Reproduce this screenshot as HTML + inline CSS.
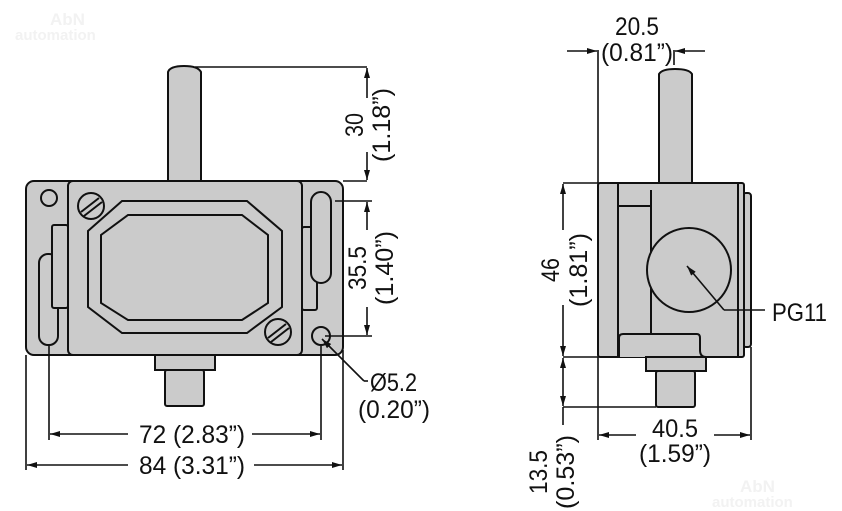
<!DOCTYPE html>
<html><head><style>
html,body{margin:0;padding:0;background:#fff;}
svg{display:block;}
text{font-family:"Liberation Sans",sans-serif;font-size:25px;fill:#111;}
</style></head><body>
<svg width="842" height="511" viewBox="0 0 842 511" xmlns="http://www.w3.org/2000/svg">
<defs>
<marker id="a" viewBox="0 0 10 6" refX="10" refY="3" markerWidth="11" markerHeight="6" orient="auto-start-reverse" markerUnits="userSpaceOnUse"><path d="M0,0 L10,3 L0,6 z" fill="#111"/></marker>
</defs>
<g>
<text x="50" y="25" style="fill:#f2f2f2;font-size:17px;font-weight:bold">AbN</text>
<text x="15" y="40" style="fill:#f2f2f2;font-size:15px;font-weight:bold">automation</text>
<text x="740" y="492" style="fill:#f2f2f2;font-size:17px;font-weight:bold">AbN</text>
<text x="712" y="507" style="fill:#f2f2f2;font-size:15px;font-weight:bold">automation</text>
</g>
<g stroke="#111" stroke-width="2" fill="#cbcbcb">
<!-- LEFT VIEW -->
<path d="M168,181 L168,72 Q170,66 184,66 Q198,66 201,72 L201,181 Z"/>
<rect x="26" y="181" width="317" height="174" rx="8"/>
<rect x="68" y="181" width="234" height="174" rx="5"/>
<rect x="39" y="254" width="19" height="91" rx="9"/>
<rect x="52" y="225" width="16" height="83" rx="2"/>
<circle cx="49" cy="198" r="8"/>
<rect x="302" y="227" width="15" height="83" rx="2"/>
<rect x="311" y="192" width="20" height="91" rx="10"/>
<circle cx="321" cy="336" r="9"/>
<path d="M122,201 L247,201 L282,231 L282,307 L247,333 L122,333 L88,307 L88,231 Z"/>
<path d="M128,215 L242,215 L268,235 L268,303 L242,320 L128,320 L101,303 L101,235 Z"/>
<circle cx="91" cy="206" r="13"/><path d="M81,212 L99,198 M84,216 L102,202" fill="none"/>
<circle cx="278" cy="332" r="13"/><path d="M268,338 L286,324 M271,342 L289,328" fill="none"/>
<rect x="155" y="355" width="60" height="15"/>
<rect x="165" y="370" width="39" height="36" rx="2"/>
<!-- RIGHT VIEW -->
<path d="M659,183 L659,74 Q662,69 675,69 Q689,69 692,74 L692,183 Z"/>
<rect x="743" y="193" width="8" height="154" rx="3"/>
<rect x="598" y="183" width="146" height="174" rx="2"/>
<path d="M618,183 L618,357 M738,183 L738,357 M651,190 L651,333 M619,206 L650,206" fill="none"/>
<path d="M619,357 L619,338 Q619,334 623,334 L697,334 Q700,334 700,338 L700,350 Q700,357 706,357" fill="#cbcbcb"/>
<circle cx="689" cy="270" r="42"/>
<rect x="646" y="357" width="60" height="14"/>
<rect x="656" y="371" width="39" height="36" rx="2"/>
</g>
<g stroke="#111" stroke-width="1.6" fill="none">
<path d="M195,67 L367,67 M343,181 L367,181"/>
<path d="M367,68 L367,98" marker-start="url(#a)"/><path d="M367,152 L367,180" marker-end="url(#a)"/>
<path d="M335,201 L372,201 M325,336 L372,336"/>
<path d="M367,202 L367,230" marker-start="url(#a)"/><path d="M367,307 L367,335" marker-end="url(#a)"/>
<path d="M364,381 L322,339" marker-end="url(#a)"/><path d="M364,381 L368,381"/>
<path d="M26,355 L26,470 M343,350 L343,470 M49,346 L49,440 M321,346 L321,440"/>
<path d="M50,434 L128,434" marker-start="url(#a)"/><path d="M252,434 L320,434" marker-end="url(#a)"/>
<path d="M27,465 L128,465" marker-start="url(#a)"/><path d="M254,465 L342,465" marker-end="url(#a)"/>
<path d="M598,50 L598,183 M674,50 L674,65"/>
<path d="M567,51 L597,51" marker-end="url(#a)"/><path d="M705,51 L675,51" marker-end="url(#a)"/>
<path d="M563,183 L598,183 M563,357 L598,357 M563,407 L656,407"/>
<path d="M563,184 L563,230" marker-start="url(#a)"/><path d="M563,305 L563,356" marker-end="url(#a)"/>
<path d="M563,358 L563,406" marker-start="url(#a)" marker-end="url(#a)"/>
<path d="M563,407 L563,425"/>
<path d="M598,357 L598,440 M751,347 L751,440"/>
<path d="M599,435 L636,435" marker-start="url(#a)"/><path d="M714,435 L750,435" marker-end="url(#a)"/>
<path d="M724,310 L687,266" marker-end="url(#a)"/><path d="M724,310 L765,310"/>
</g>
<g>
<text transform="translate(363,125) rotate(-90)" text-anchor="middle" textLength="24" lengthAdjust="spacingAndGlyphs">30</text>
<text transform="translate(390,125) rotate(-90)" text-anchor="middle" textLength="74" lengthAdjust="spacingAndGlyphs">(1.18”)</text>
<text transform="translate(366,268) rotate(-90)" text-anchor="middle" textLength="44" lengthAdjust="spacingAndGlyphs">35.5</text>
<text transform="translate(393,268) rotate(-90)" text-anchor="middle" textLength="74" lengthAdjust="spacingAndGlyphs">(1.40”)</text>
<text x="370" y="391" textLength="47" lengthAdjust="spacingAndGlyphs">Ø5.2</text>
<text x="358" y="418" textLength="72" lengthAdjust="spacingAndGlyphs">(0.20”)</text>
<text x="139" y="443" textLength="106" lengthAdjust="spacingAndGlyphs">72 (2.83”)</text>
<text x="139" y="474" textLength="106" lengthAdjust="spacingAndGlyphs">84 (3.31”)</text>
<text x="637" y="35" text-anchor="middle" textLength="44" lengthAdjust="spacingAndGlyphs">20.5</text>
<text x="637" y="61" text-anchor="middle" textLength="72" lengthAdjust="spacingAndGlyphs">(0.81”)</text>
<text transform="translate(559,270) rotate(-90)" text-anchor="middle" textLength="24" lengthAdjust="spacingAndGlyphs">46</text>
<text transform="translate(587,270) rotate(-90)" text-anchor="middle" textLength="74" lengthAdjust="spacingAndGlyphs">(1.81”)</text>
<text transform="translate(547,472) rotate(-90)" text-anchor="middle" textLength="44" lengthAdjust="spacingAndGlyphs">13.5</text>
<text transform="translate(574,472) rotate(-90)" text-anchor="middle" textLength="74" lengthAdjust="spacingAndGlyphs">(0.53”)</text>
<text x="675" y="437" text-anchor="middle" textLength="46" lengthAdjust="spacingAndGlyphs">40.5</text>
<text x="675" y="462" text-anchor="middle" textLength="72" lengthAdjust="spacingAndGlyphs">(1.59”)</text>
<text x="772" y="321" textLength="55" lengthAdjust="spacingAndGlyphs">PG11</text>
</g>
</svg>
</body></html>
